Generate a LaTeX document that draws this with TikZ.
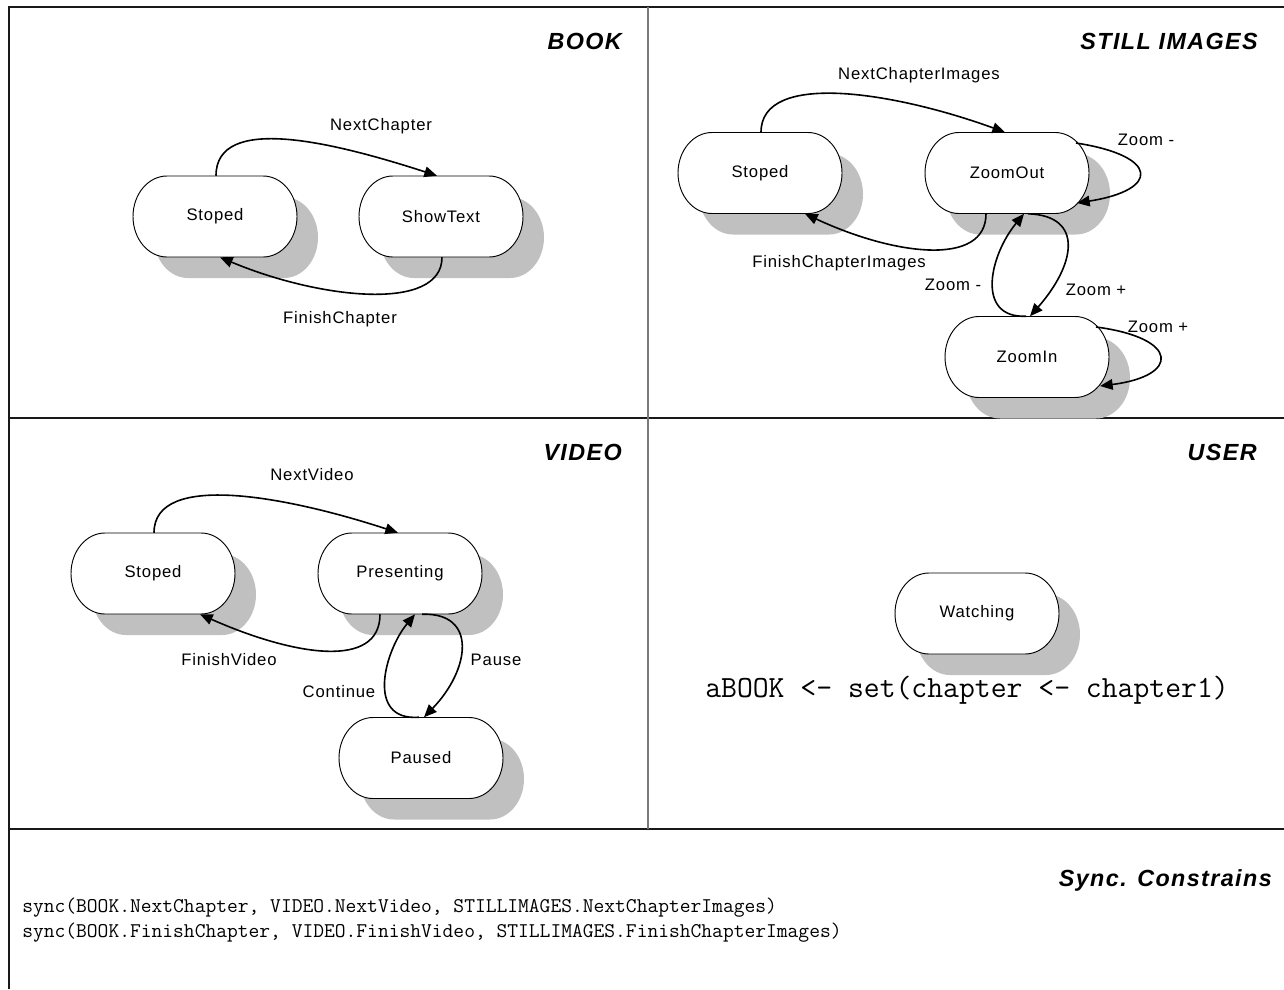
\documentclass[tikz,border=0pt]{standalone}
\usepackage{fontspec}
\setmainfont{Liberation Sans}
\newfontfamily\labelfont[LetterSpace=5]{Liberation Sans}
\newfontfamily\titlefont[LetterSpace=6]{Liberation Sans}
\usetikzlibrary{arrows.meta,calc}

\definecolor{shadowgray}{HTML}{C0C0C0}
\definecolor{dividergray}{HTML}{7A7A7A}

\tikzset{
  frameline/.style={line width=1.3pt, black!90},
  conn/.style={line width=1.2pt, -{Triangle[length=9.5pt,width=8pt]}},
  lbl/.style={font=\labelfont\fontsize{12.5}{14}\selectfont, inner sep=0pt},
  stext/.style={font=\labelfont\fontsize{12.5}{14}\selectfont, inner sep=0pt,
                minimum width=123pt, minimum height=60.75pt},
  paneltitle/.style={font=\titlefont\fontsize{17.5}{20}\selectfont\bfseries\itshape,
                     inner sep=0pt, anchor=east},
  code/.style={font=\ttfamily\fontsize{15.7}{18}\selectfont, inner sep=0pt, anchor=west},
}

% capsule state with a soft drop shadow; #1 name, #2 x, #3 y, #4 text
\newcommand\statebox[4]{%
  \fill[shadowgray] ({#2+21-48},{#3+21-40.5}) -- ({#2+21+48},{#3+21-40.5})
     arc[start angle=-90,end angle=90,x radius=34,y radius=40.5]
     -- ({#2+21-48},{#3+21+40.5})
     arc[start angle=90,end angle=270,x radius=34,y radius=40.5] -- cycle;
  \draw[line width=0.7pt, fill=white] ({#2-48},{#3-40.5}) -- ({#2+48},{#3-40.5})
     arc[start angle=-90,end angle=90,x radius=34,y radius=40.5]
     -- ({#2-48},{#3+40.5})
     arc[start angle=90,end angle=270,x radius=34,y radius=40.5] -- cycle;
  \node[stext] (#1) at (#2,#3) {#4};
}

\begin{document}
\begin{tikzpicture}[x=0.75pt, y=-0.75pt]
\useasboundingbox (0,0) rectangle (1284,989);

% panel frame
\draw[frameline] (1284,7) -- (9,7) -- (9,989);
\draw[frameline] (9,418) -- (1284,418);
\draw[frameline] (9,829) -- (1284,829);
\draw[line width=1.5pt, dividergray] (648,7) -- (648,829);

% panel titles
\node[paneltitle] (tbook)  at (622,41)  {BOOK};
\node[paneltitle] (tstill) at (1258,41) {STILL IMAGES};
\node[paneltitle] (tvideo) at (622,452) {VIDEO};
\node[paneltitle] (tuser)  at (1257,452) {USER};
\node[paneltitle] (tsync)  at (1272,880) {Sync. Constrains};

% ---------------- BOOK ----------------
\statebox{bs}{215}{216.5}{Stoped}
\statebox{bt}{441}{216.5}{ShowText}
\draw[conn] ($(bs.north)+(1,0)$) .. controls +(0,-62) and +(-105,-34) .. ($(bt.north)+(-4,0)$);
\draw[conn] ($(bt.south)+(1,0)$) .. controls +(0,55) and +(100,42) .. ($(bs.south)+(5,0)$);
\node[lbl] (lnc) at (381,126) {NextChapter};
\node[lbl] (lfc) at (340,319) {FinishChapter};

% ---------------- STILL IMAGES ----------------
\statebox{ss}{760}{173}{Stoped}
\statebox{so}{1007}{173}{ZoomOut}
\statebox{si}{1027}{357}{ZoomIn}
\draw[conn] ($(ss.north)+(1,0)$) .. controls +(0,-62) and +(-110,-40) .. ($(so.north)+(-2,0)$);
\draw[conn] ($(so.south)+(-21,0)$) .. controls +(0,53) and +(90,42) .. ($(ss.south)+(45,0)$);
\coordinate (zo1) at (1076,143);
\coordinate (zo2) at (1077,203);
\draw[conn] (zo1) .. controls (1160,156) and (1160,190) .. (zo2);
\draw[conn] ($(so.south)+(21,0)$) .. controls +(57,2) and +(45,-51) .. ($(si.north)+(3,0)$);
\draw[conn] ($(si.north)+(-1,0)$) .. controls +(-51,2) and +(-34,41) .. ($(so.south)+(17,0)$);
\coordinate (zi1) at (1096,327);
\coordinate (zi2) at (1100,386);
\draw[conn] (zi1) .. controls (1180,338) and (1180,376) .. (zi2);
\node[lbl] (lnci) at (919,75)  {NextChapterImages};
\node[lbl] (lfci) at (839,263) {FinishChapterImages};
\node[lbl] (lzm1) at (1146,140) {Zoom -};
\node[lbl] (lzp1) at (1096,290) {Zoom +};
\node[lbl] (lzm2) at (953,285) {Zoom -};
\node[lbl] (lzp2) at (1158,327) {Zoom +};

% ---------------- VIDEO ----------------
\statebox{vs}{153}{573.5}{Stoped}
\statebox{vp}{400}{573.5}{Presenting}
\statebox{vz}{421}{758}{Paused}
\draw[conn] ($(vs.north)+(1,0)$) .. controls +(0,-62) and +(-110,-36) .. ($(vp.north)+(-2,0)$);
\draw[conn] ($(vp.south)+(-20,0)$) .. controls +(0,55) and +(95,42) .. ($(vs.south)+(47,0)$);
\draw[conn] ($(vp.south)+(22,0)$) .. controls +(56,-2) and +(46,-47.5) .. ($(vz.north)+(3,0)$);
\draw[conn] ($(vz.north)+(-2,0)$) .. controls +(-54,4) and +(-30,36) .. ($(vp.south)+(15,0)$);
\node[lbl] (lnv) at (312,475) {NextVideo};
\node[lbl] (lfv) at (229,660) {FinishVideo};
\node[lbl] (lpa) at (496,660) {Pause};
\node[lbl] (lco) at (339,692) {Continue};

% ---------------- USER ----------------
\statebox{uw}{977}{613.5}{Watching}
\node[font=\ttfamily\fontsize{23.1}{26}\selectfont, inner sep=0pt] (uset) at (967,690)
  {aBOOK <- set(chapter <- chapter1)};

% ---------------- sync constraints ----------------
\node[code] (sync1) at (22,908) {sync(BOOK.NextChapter, VIDEO.NextVideo, STILLIMAGES.NextChapterImages)};
\node[code] (sync2) at (22,933) {sync(BOOK.FinishChapter, VIDEO.FinishVideo, STILLIMAGES.FinishChapterImages)};
\end{tikzpicture}
\end{document}
